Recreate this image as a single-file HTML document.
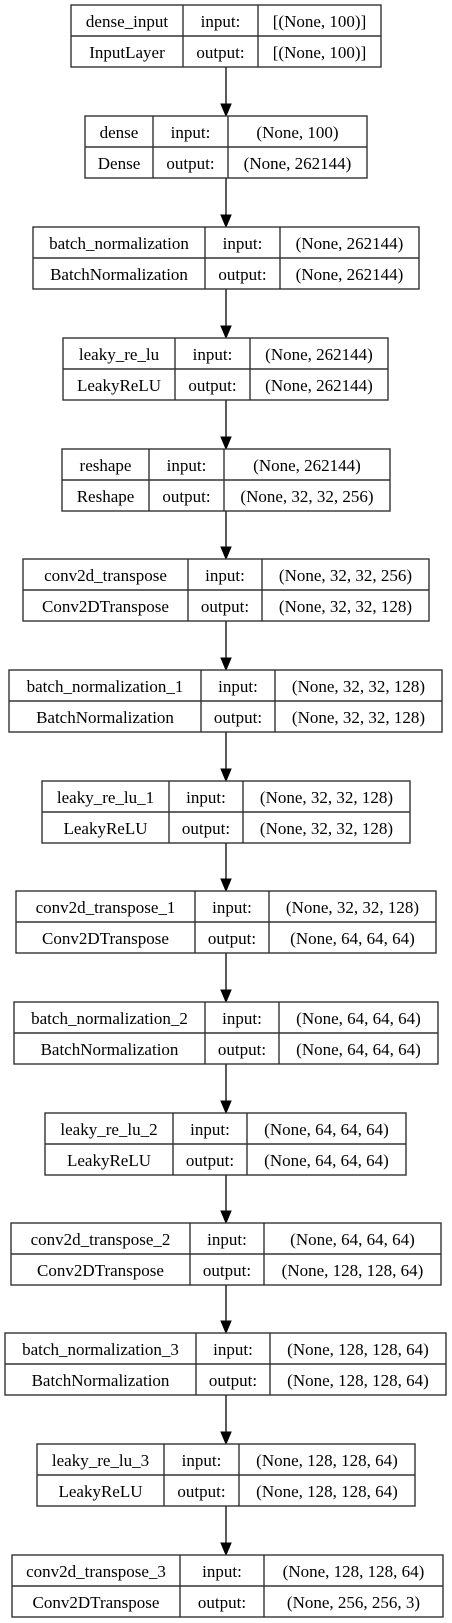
<!DOCTYPE html>
<html><head><meta charset="utf-8">
<style>
html,body{margin:0;padding:0;background:#fff;width:452px;height:1623px;overflow:hidden}
svg text{font-family:"Liberation Serif",serif;font-size:17px;fill:#000}
</style></head>
<body>
<svg id="g" width="452" height="1623" viewBox="0 0 452 1623"></svg>
<script>
const layerNames=["dense_input","dense","batch_normalization","leaky_re_lu","reshape","conv2d_transpose","batch_normalization_1","leaky_re_lu_1","conv2d_transpose_1","batch_normalization_2","leaky_re_lu_2","conv2d_transpose_2","batch_normalization_3","leaky_re_lu_3","conv2d_transpose_3"];
const layerTypes=["InputLayer","Dense","BatchNormalization","LeakyReLU","Reshape","Conv2DTranspose","BatchNormalization","LeakyReLU","Conv2DTranspose","BatchNormalization","LeakyReLU","Conv2DTranspose","BatchNormalization","LeakyReLU","Conv2DTranspose"];
const inputShapes=["[(None, 100)]","(None, 100)","(None, 262144)","(None, 262144)","(None, 262144)","(None, 32, 32, 256)","(None, 32, 32, 128)","(None, 32, 32, 128)","(None, 32, 32, 128)","(None, 64, 64, 64)","(None, 64, 64, 64)","(None, 64, 64, 64)","(None, 128, 128, 64)","(None, 128, 128, 64)","(None, 128, 128, 64)"];
const outputShapes=["[(None, 100)]","(None, 262144)","(None, 262144)","(None, 262144)","(None, 32, 32, 256)","(None, 32, 32, 128)","(None, 32, 32, 128)","(None, 32, 32, 128)","(None, 64, 64, 64)","(None, 64, 64, 64)","(None, 64, 64, 64)","(None, 128, 128, 64)","(None, 128, 128, 64)","(None, 128, 128, 64)","(None, 256, 256, 3)"];
const colEdges=[[71,183,258,381],[85,153,228,367],[33,205,280,419],[63,175,250,388],[62,149,224,390],[23,188,262,429],[9,201,275,442],[42,169,243,410],[16,195,269,436],[14,205,279,438],[45,173,247,406],[11,190,264,441],[5,196,270,446],[37,164,239,415],[12,180,264,443]];
const boxTops=[5,116,227,338,449,559,670,781,891,1002,1113,1223,1333,1444,1555];
const H=62, CX=226, NS="http://www.w3.org/2000/svg";
const svg=document.getElementById('g');
function mk(tag,attrs,parent){const e=document.createElementNS(NS,tag);for(const k in attrs)e.setAttribute(k,attrs[k]);(parent||svg).appendChild(e);return e;}
function txt(x,y,s,g){const t=mk('text',{x:x,y:y,'text-anchor':'middle'},g);t.textContent=s;return t;}
for(let i=0;i<layerNames.length;i++){
  const [a,b,c,d]=colEdges[i], y=boxTops[i];
  const g=mk('g',{});
  
  
  mk('rect',{x:a,y:y,width:d-a,height:H,fill:'#fff',stroke:'#333','stroke-width':1.4},g);
  mk('line',{x1:a,y1:y+H/2,x2:d,y2:y+H/2,stroke:'#333','stroke-width':1.4},g);
  mk('line',{x1:b,y1:y,x2:b,y2:y+H,stroke:'#333','stroke-width':1.4},g);
  mk('line',{x1:c,y1:y,x2:c,y2:y+H,stroke:'#333','stroke-width':1.4},g);
  const r1=y+22, r2=y+53;
  txt((a+b)/2,r1,layerNames[i],g);
  txt((a+b)/2,r2,layerTypes[i],g);
  txt((b+c)/2,r1,'input:',g);
  txt((b+c)/2,r2,'output:',g);
  txt((c+d)/2,r1,inputShapes[i],g);
  txt((c+d)/2,r2,outputShapes[i],g);
  if(i<layerNames.length-1){
    const y0=y+H, y1=boxTops[i+1];
    const ar=mk('g',{});
    
    
    mk('line',{x1:CX,y1:y0,x2:CX,y2:y1-11,stroke:'#333','stroke-width':1.6},ar);
    mk('polygon',{points:(CX-5)+','+(y1-12)+' '+(CX+5)+','+(y1-12)+' '+CX+','+y1,fill:'#000',stroke:'#000'},ar);
  }
}
</script>
</body></html>
